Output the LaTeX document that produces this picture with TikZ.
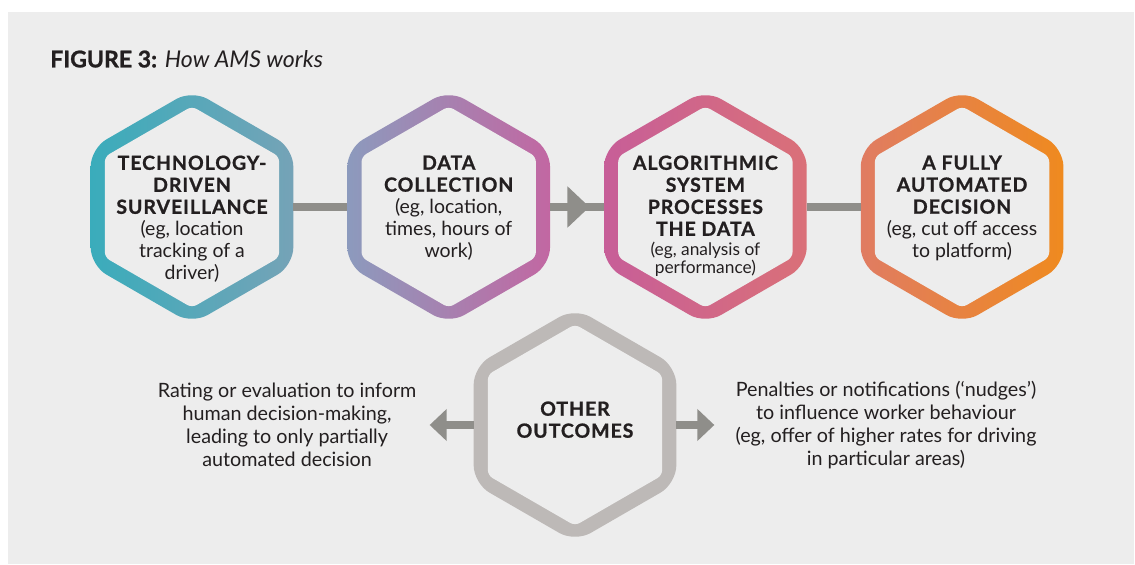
\documentclass[tikz,border=0pt]{standalone}
\usepackage{fontspec}
\setmainfont{Lato}
\usetikzlibrary{shapes.geometric,positioning,arrows.meta,calc}

\definecolor{panel}{HTML}{EDEDED}
\definecolor{ink}{HTML}{231F20}
\definecolor{linegray}{HTML}{8F8E8A}
\definecolor{hexgray}{HTML}{BDB9B7}
\definecolor{tealL}{HTML}{3AACBB}
\definecolor{tealR}{HTML}{75A3B7}
\definecolor{purpL}{HTML}{8C9ABD}
\definecolor{purpR}{HTML}{C267A2}
\definecolor{pinkL}{HTML}{C75E98}
\definecolor{pinkR}{HTML}{DA7078}
\definecolor{orngL}{HTML}{E07C62}
\definecolor{orngR}{HTML}{EF8A1F}

% headings inside the hexagons
\newcommand{\hd}[1]{{\bfseries\addfontfeatures{LetterSpace=5,FakeBold=1}#1}}

\begin{document}
\begin{tikzpicture}[x=0.75pt,y=0.75pt]

    \tikzstyle{hexout}=[regular polygon, regular polygon sides=6, regular polygon rotate=30, minimum size=175.5pt, inner sep=0pt, outer sep=0pt, rounded corners=13.5pt];
    \tikzstyle{hexin}=[regular polygon, regular polygon sides=6, regular polygon rotate=30, minimum size=151pt, inner sep=0pt, fill=panel, rounded corners=4pt];
    \tikzstyle{hextext}=[align=center, inner sep=0pt, text=ink, font=\fontsize{14.6}{16.5}\selectfont];
    \tikzstyle{sidetext}=[align=center, inner sep=0pt, text=ink, font=\fontsize{14.8}{17.25}\selectfont];
    \tikzstyle{conn}=[draw=linegray, line width=5.6pt];

    \useasboundingbox (0,0) rectangle (1135,564);
    \fill[panel] (8,0) rectangle (1134,552);

    \node (title) at (50,505) [anchor=west, inner sep=0pt, text=ink, font=\fontsize{17.3}{20}\selectfont]{{\bfseries\addfontfeatures{FakeBold=1}FIGURE 3:} \textit{How AMS works}};

    % the four steps
    \node (surv) at (192,357) [hexout, left color=tealL, right color=tealR]{};
    \node (coll) [right=40.5pt of surv, hexout, left color=purpL, right color=purpR]{};
    \node (algo) [right=40.5pt of coll, hexout, left color=pinkL, right color=pinkR]{};
    \node (auto) [right=40.5pt of algo, hexout, left color=orngL, right color=orngR]{};
    \node (other) at (575,139) [hexout, fill=hexgray]{};

    \foreach \h in {surv,coll,algo,auto,other}
      \node at (\h) [hexin]{};

    \draw[conn] (surv.east) -- (coll.west);
    \draw[conn] (coll.east) -- (algo.west);
    \draw[conn, -{Triangle[length=16.5pt, width=30pt]}] (coll.east) -- ($(coll.east)!0.73!(algo.west)$);
    \draw[conn] (algo.east) -- (auto.west);

    \node (survtext) [below=49pt of surv.north, hextext]{\hd{TECHNOLOGY-}\\\hd{DRIVEN}\\\hd{SURVEILLANCE}\\(eg, location\\tracking of a\\driver)};
    \node (colltext) [below=49pt of coll.north, hextext]{\hd{DATA}\\\hd{COLLECTION}\\(eg, location,\\times, hours of\\work)};
    \node (algotext) [below=49pt of algo.north, hextext]{\hd{ALGORITHMIC}\\\hd{SYSTEM}\\\hd{PROCESSES}\\\hd{THE DATA}\\[-2pt]{\fontsize{13}{14}\selectfont (eg, analysis of}\\[-2.5pt]{\fontsize{13}{14}\selectfont performance)}};
    \node (autotext) [below=49pt of auto.north, hextext]{\hd{A FULLY}\\\hd{AUTOMATED}\\\hd{DECISION}\\(eg, cut off access\\to platform)};
    \node (othertext) at (other) [hextext, yshift=4pt]{\hd{OTHER}\\\hd{OUTCOMES}};

    % outcomes on either side
    \node (rating) [left=42.75pt of other, sidetext]{Rating or evaluation to inform\\human decision-making,\\leading to only partially\\automated decision};
    \node (nudge) [right=44.25pt of other, sidetext]{Penalties or notifications (‘nudges’)\\to influence worker behaviour\\(eg, offer of higher rates for driving\\in particular areas)};

    \draw[conn, line width=5.3pt, -{Triangle[length=12.75pt, width=23.25pt]}, shorten >=9.75pt] (other.west) -- (rating.east);
    \draw[conn, line width=5.3pt, -{Triangle[length=12.75pt, width=23.25pt]}, shorten >=15.75pt] (other.east) -- (nudge.west);

\end{tikzpicture}
\end{document}
